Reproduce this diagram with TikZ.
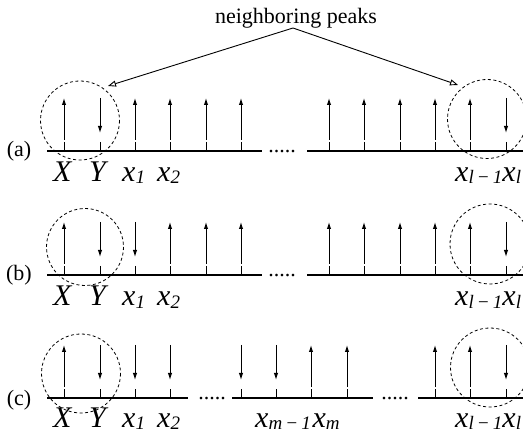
\documentclass[tikz,border=0pt]{standalone}
\usepackage{fontspec}
\setmainfont{Liberation Serif}
\newfontfamily\tnr{Liberation Serif}
\usetikzlibrary{arrows.meta}
\newcommand\sublbl[2]{{\tnr\fontsize{30}{34}\selectfont\itshape #1}\raisebox{-2pt}{\tnr\fontsize{19}{20}\selectfont\itshape #2}}
\newcommand\upvec[2]{\draw[vec] (#1,#2-11) -- (#1,#2-53);}
\newcommand\dnvec[2]{\draw[vec] (#1,#2-53) -- (#1,#2-18);}
\newcommand\tickat[2]{\draw[tickln] (#1,#2-9) -- (#1,#2);}
\begin{document}
\begin{tikzpicture}[x=1pt,y=-1pt,
  vec/.style={line width=1pt,-{Latex[length=7pt,width=4.4pt]}},
  tickln/.style={line width=1pt},
  axisln/.style={line width=1.1pt},
  peak/.style={dash pattern=on 3pt off 2.5pt, line width=0.8pt},
  rowlbl/.style={font=\tnr\fontsize{22}{26}\selectfont, inner sep=0pt, anchor=base},
  varlbl/.style={inner sep=0pt, anchor=base west},
  dotsl/.style={font=\tnr\fontsize{22}{26}\selectfont, inner sep=0pt, anchor=base},
  callout/.style={line width=0.9pt,-{Triangle[open,length=8pt,width=6pt]}}]
\useasboundingbox (0,0) rectangle (523,433);
\clip (0,0) rectangle (523,433);
% callout
\node[rowlbl] (np) at (296,24) {neighboring peaks};
\coordinate (apex) at (293,28);
\coordinate (tl) at (108,86);
\coordinate (tr) at (458,85);
\draw[callout] (apex) -- (tl);
\draw[callout] (apex) -- (tr);
% ---------- row a
\node[rowlbl] (la) at (19,157) {(a)};
\draw[axisln] (47,151) -- (262,151);
\draw[axisln] (307,151) -- (523,151);
\node[dotsl] (da) at (282,152.5) {.....};
\foreach \x in {64,100,135,170,206,241,329,364,400,435,470,506} {\tickat{\x}{151}}
\foreach \x in {64,135,170,206,241,329,364,400,435,470} {\upvec{\x}{151}}
\foreach \x in {100,506} {\dnvec{\x}{151}}
\draw[peak] (80,120.5) circle[radius=39.5];
\draw[peak] (487,119) circle[radius=39.5];
\node[varlbl] (aX) at (53,182) {\sublbl{X}{}};
\node[varlbl] (aY) at (89,182) {\sublbl{Y}{}};
\node[varlbl] (ax1) at (122,182) {\sublbl{x}{1}};
\node[varlbl] (ax2) at (157,182) {\sublbl{x}{2}};
\node[varlbl] (axl) at (455,182) {\sublbl{x}{l\,−\,1}\sublbl{x}{l}};
% ---------- row b
\node[rowlbl] (lb) at (19,281) {(b)};
\draw[axisln] (47,275) -- (262,275);
\draw[axisln] (307,275) -- (523,275);
\node[dotsl] (db) at (282,276.5) {.....};
\foreach \x in {64,100,135,170,206,241,329,364,400,435,470,506} {\tickat{\x}{275}}
\foreach \x in {64,170,206,241,329,364,400,435,470} {\upvec{\x}{275}}
\foreach \x in {100,135,506} {\dnvec{\x}{275}}
\draw[peak] (85,247) circle[radius=38.5];
\draw[peak] (490,244) circle[radius=40];
\node[varlbl] (bX) at (53,306) {\sublbl{X}{}};
\node[varlbl] (bY) at (89,306) {\sublbl{Y}{}};
\node[varlbl] (bx1) at (122,306) {\sublbl{x}{1}};
\node[varlbl] (bx2) at (157,306) {\sublbl{x}{2}};
\node[varlbl] (bxl) at (455,306) {\sublbl{x}{l\,−\,1}\sublbl{x}{l}};
% ---------- row c
\node[rowlbl] (lc) at (19,405) {(c)};
\draw[axisln] (47,398) -- (188,398);
\draw[axisln] (232,398) -- (373,398);
\draw[axisln] (418,398) -- (523,398);
\node[dotsl] (dc1) at (212,399.5) {.....};
\node[dotsl] (dc2) at (395,399.5) {.....};
\foreach \x in {64,100,135,170,241,276,311,347,435,470,506} {\tickat{\x}{398}}
\foreach \x in {64,311,347,435,470} {\upvec{\x}{398}}
\foreach \x in {100,135,170,241,276,506} {\dnvec{\x}{398}}
\draw[peak] (81,373.5) circle[radius=39.5];
\draw[peak] (490,367.5) circle[radius=39.5];
\node[varlbl] (cX) at (53,427) {\sublbl{X}{}};
\node[varlbl] (cY) at (89,427) {\sublbl{Y}{}};
\node[varlbl] (cx1) at (122,427) {\sublbl{x}{1}};
\node[varlbl] (cx2) at (157,427) {\sublbl{x}{2}};
\node[varlbl] (cxm) at (255,427) {\sublbl{x}{m\,−\,1}\,\sublbl{x}{m}};
\node[varlbl] (cxl) at (455,427) {\sublbl{x}{l\,−\,1}\sublbl{x}{l}};
\end{tikzpicture}
\end{document}
